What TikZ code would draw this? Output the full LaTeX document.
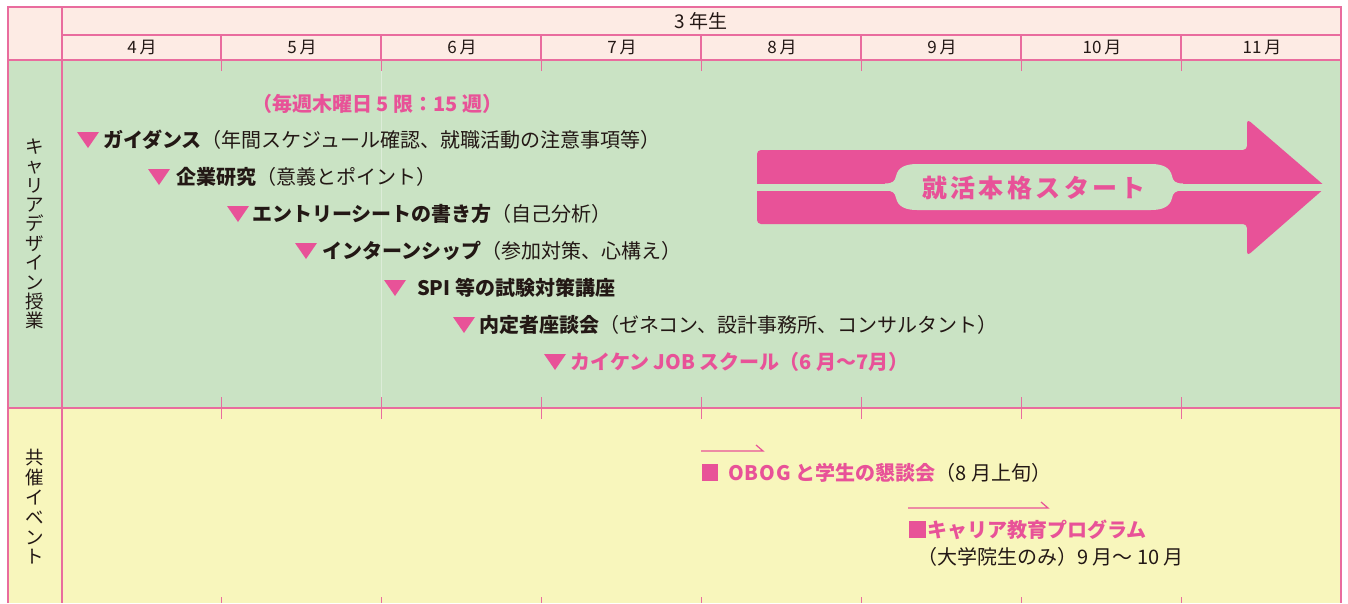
\documentclass[tikz,border=0pt]{standalone}
\usepackage{fontspec}
\setmainfont{Noto Sans CJK JP}
\usetikzlibrary{arrows.meta}
\definecolor{pk}{RGB}{232,82,152}
\definecolor{pkline}{RGB}{233,108,158}
\definecolor{hdr}{RGB}{253,235,228}
\definecolor{grn}{RGB}{202,227,196}
\definecolor{ylw}{RGB}{248,246,188}
\definecolor{ink}{RGB}{35,24,21}
\newcommand{\ptri}[2]{\fill[pk] (#1,#2-8) -- ++(22,0) -- ++(-11,16) -- cycle;}
\begin{document}
\begin{tikzpicture}[x=1pt,y=-1pt,
  every node/.style={inner sep=0pt, outer sep=0pt, text=ink},
  month/.style={font=\fontsize{17}{17}\selectfont},
  vlab/.style={align=center, font=\fontsize{18.5}{19.4}\selectfont},
  item/.style={anchor=base west, font=\fontsize{20}{20}\selectfont},
  border/.style={draw=pkline, line width=1.4pt},
  tickln/.style={draw=pkline, line width=1pt},
  harp/.style={draw=pk, line width=1.2pt}]
\useasboundingbox (0,0) rectangle (1348,603);
% backgrounds
\fill[hdr] (8,7) rectangle (1341,60);
\fill[grn] (8,60) rectangle (1341,408);
\fill[ylw] (8,408) rectangle (1341,603);
\draw[white, opacity=0.35, line width=0.8pt] (381,71) -- (381,397);
% grid
\draw[border] (8,603) -- (8,7) -- (1341,7) -- (1341,603);
\draw[border] (62,7) -- (62,603);
\draw[border] (62,35) -- (1341,35);
\draw[border] (8,60) -- (1341,60);
\draw[border] (8,408) -- (1341,408);
\foreach \x in {221,381,...,1181} {
  \draw[border, line width=1.2pt] (\x,35) -- (\x,60);
  \draw[tickln] (\x,60) -- (\x,71);
  \draw[tickln] (\x,397) -- (\x,419);
  \draw[tickln] (\x,597) -- (\x,603);
}
% header
\node[month, font=\fontsize{19}{19}\selectfont] (yr) at (701,21) {3 年生};
\foreach \m [count=\i from 0] in {4,5,...,11}
  \node[month] (m\m) at (142+160*\i,47.5) {\m\,月};
% side labels
\node[vlab] (lab1) at (35,234) {キ\\ャ\\リ\\ア\\デ\\ザ\\イ\\ン\\授\\業};
\node[vlab, font=\fontsize{18.5}{19.8}\selectfont] (lab2) at (35,507) {共\\催\\イ\\ベ\\ン\\ト};
% class items
\node[item, text=pk] (t0) at (252,111.6) {\bfseries （毎週木曜日 5 限：15 週）};
\ptri{77}{140}
\node[item] (r1) at (103,147.6) {\textbf{ガイダンス}（年間スケジュール確認、就職活動の注意事項等）};
\ptri{148}{177}
\node[item] (r2) at (176,184.6) {\textbf{企業研究}（意義とポイント）};
\ptri{227}{214}
\node[item] (r3) at (252,221.6) {\textbf{エントリーシートの書き方}（自己分析）};
\ptri{295}{251}
\node[item] (r4) at (322,258.6) {\textbf{インターンシップ}（参加対策、心構え）};
\ptri{384}{288}
\node[item] (r5) at (417,295.6) {\textbf{SPI 等の試験対策講座}};
\ptri{453}{325}
\node[item] (r6) at (479,332.6) {\textbf{内定者座談会}（ゼネコン、設計事務所、コンサルタント）};
\ptri{544}{362}
\node[item, text=pk] (r7) at (570,369.6) {\bfseries カイケン JOB スクール（6 月～7月）};
% big arrow
\fill[pk, rounded corners=4pt] (757,150) -- (1247,150) -- (1247,119) -- (1326,187)
  -- (1247,256) -- (1247,224) -- (757,224) -- cycle;
\fill[grn] (750,183.5) rectangle (1335,190.5);
\fill[grn] (885,183.5) .. controls (893,183.5) and (895,181) .. (896,176)
  .. controls (898,167) and (906,164) .. (917,164) -- (1151,164)
  .. controls (1162,164) and (1170,167) .. (1172,176)
  .. controls (1173,181) and (1175,183.5) .. (1183,183.5) -- (1183,190.5)
  .. controls (1175,190.5) and (1173,193) .. (1172,198)
  .. controls (1170,207) and (1162,210) .. (1151,210) -- (917,210)
  .. controls (906,210) and (898,207) .. (896,198)
  .. controls (895,193) and (893,190.5) .. (885,190.5) -- cycle;
\node[anchor=base, text=pk, font=\fontsize{25}{25}\selectfont\bfseries] (start) at (1034,197)
  {就\kern3.4pt 活\kern3.4pt 本\kern3.4pt 格\kern3.4pt ス\kern3.4pt タ\kern3.4pt ー\kern3.4pt ト};
% events
\coordinate (h1s) at (701,451);
\coordinate (h1e) at (763,451);
\draw[harp] (h1s) -- (h1e) -- ++(-7,-6);
\fill[pk] (702,464) rectangle (718,481);
\node[item] (ob) at (728,480.6) {\textcolor{pk}{\bfseries O\kern1ptB\kern1ptO\kern1ptG と学生の懇談会}（8 月上旬）};
\coordinate (h2s) at (908,508);
\coordinate (h2e) at (1048,508);
\draw[harp] (h2s) -- (h2e) -- ++(-7,-6);
\fill[pk] (909,521) rectangle (926,538);
\node[item, text=pk] (kp) at (927,537.6) {\bfseries キャリア教育プログラム};
\node[item] (kp2) at (917,564.6) {（大学院生のみ）9 月～ 10 月};
\end{tikzpicture}
\end{document}
